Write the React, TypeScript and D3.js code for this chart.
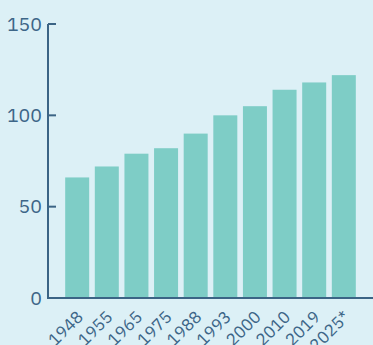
import React from "react";
import * as d3 from "d3";

const categories = ["1948", "1955", "1965", "1975", "1988", "1993", "2000", "2010", "2019", "2025*"];
const values = [66, 72, 79, 82, 90, 100, 105, 114, 118, 122];
const yTicks = [0, 50, 100, 150];

const W = 373;
const H = 345;
const BG = "#dcf0f6";
const BAR = "#7ecdc6";
const AXIS = "#3b6485";
const TEXT = "#3d6688";
const FONT = "'IBM Plex Sans', Roboto, 'Noto Sans', sans-serif";

export default function App() {
  const x = d3
    .scaleBand<string>()
    .domain(categories)
    .range([48, 373])
    .paddingInner(0.19)
    .paddingOuter(0.58);
  const y = d3.scaleLinear().domain([0, 150]).range([298, 24]);
  const x0 = 48;
  const y0 = y(0);

  return (
    <div style={{ position: "fixed", left: 0, top: 0, width: W, height: H }}>
      <svg width={W} height={H} style={{ display: "block", background: BG }}>
        <rect x={0} y={0} width={W} height={H} fill={BG} />
        {categories.map((c, i) => (
          <rect
            key={c}
            x={x(c)}
            y={y(values[i])}
            width={x.bandwidth()}
            height={y0 - y(values[i])}
            fill={BAR}
          />
        ))}
        {/* y axis */}
        <line x1={x0} x2={x0} y1={y(150)} y2={y0} stroke={AXIS} strokeWidth={2} />
        {yTicks.map((t) => (
          <g key={t}>
            {t > 0 && (
              <line x1={x0} x2={x0 + 8} y1={y(t)} y2={y(t)} stroke={AXIS} strokeWidth={2} />
            )}
            <text
              x={x0 - 6}
              y={y(t)}
              dy="0.35em"
              textAnchor="end"
              fontFamily={FONT}
              fontSize={19.5}
              fill={TEXT}
            >
              {t}
            </text>
          </g>
        ))}
        {/* x axis */}
        <line x1={x0 - 1} x2={W} y1={y0} y2={y0} stroke={AXIS} strokeWidth={2} />
        {categories.map((c) => {
          const cx = (x(c) ?? 0) + x.bandwidth() / 2 + 7;
          const cy = y0 + 20;
          return (
            <text
              key={c}
              transform={`translate(${cx},${cy}) rotate(-45)`}
              textAnchor="end"
              fontFamily={FONT}
              fontSize={17}
              fill={TEXT}
            >
              {c}
            </text>
          );
        })}
      </svg>
    </div>
  );
}
